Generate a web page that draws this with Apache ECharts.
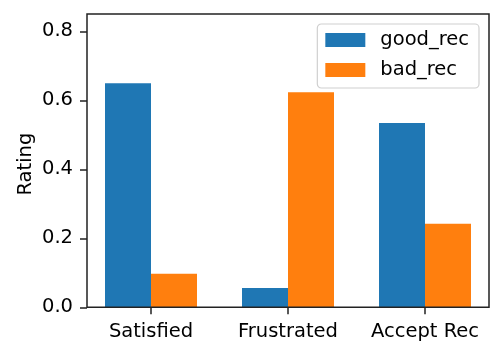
<!DOCTYPE html>
<html>
<head>
<meta charset="utf-8">
<script src="https://cdn.jsdelivr.net/npm/echarts@6/dist/echarts.min.js"></script>
<style>html,body{margin:0;padding:0;background:#fff;}#c{width:503px;height:355px;}</style>
</head>
<body>
<div id="c"></div>
<script>
const categories = ['Satisfied', 'Frustrated', 'Accept Rec'];
const goodRec = [0.649, 0.056, 0.534];
const badRec = [0.097, 0.623, 0.242];
const yTicks = [0, 0.2, 0.4, 0.6, 0.8];
const yMax = 0.85;

const FONT = 'DejaVu Sans';
const FS = 19.5;
const chart = echarts.init(document.getElementById('c'), null, {renderer: 'canvas'});
chart.setOption({
  animation: false,
  backgroundColor: '#fff',
  textStyle: {fontFamily: FONT},
  grid: [
    {left: 87, right: 14, top: 14, bottom: 47.7, show: true, borderColor: '#222', borderWidth: 1.5, backgroundColor: 'transparent', z: 5},
    {left: 82.5, right: 9.5, top: 14, bottom: 47.7}
  ],
  xAxis: [
    {type: 'category', gridIndex: 0, data: categories, show: false},
    {type: 'category', gridIndex: 1, data: categories,
     axisLine: {show: false},
     axisTick: {show: true, alignWithLabel: true, length: 7, lineStyle: {color: '#222', width: 1.5}},
     axisLabel: {color: '#000', fontSize: FS, fontFamily: FONT, margin: 15, interval: 0, hideOverlap: false}}
  ],
  yAxis: [
    {type: 'value', gridIndex: 0, min: 0, max: yMax,
     name: 'Rating', nameLocation: 'middle', nameGap: 51, nameMoveOverlap: false,
     nameTextStyle: {color: '#000', fontSize: FS, fontFamily: FONT, padding: [0, 7, 0, 0]},
     splitLine: {show: false},
     axisLine: {show: false},
     axisTick: {show: true, length: 7, customValues: yTicks, lineStyle: {color: '#222', width: 1.5}},
     axisLabel: {color: '#000', fontSize: FS, fontFamily: FONT, margin: 14, customValues: yTicks,
                 formatter: v => v.toFixed(1)}},
    {type: 'value', gridIndex: 1, min: 0, max: yMax, show: false, splitLine: {show: false}}
  ],
  legend: {
    orient: 'vertical', right: 24, top: 24,
    data: ['good_rec', 'bad_rec'],
    icon: 'rect',
    itemWidth: 40, itemHeight: 14, itemGap: 10,
    padding: [6, 10, 8, 8],
    backgroundColor: 'rgba(255,255,255,0.8)',
    borderColor: '#d0d0d0', borderWidth: 1.2, borderRadius: 4,
    textStyle: {color: '#000', fontSize: FS, fontFamily: FONT, padding: [0, 0, 0, 10]},
    z: 10
  },
  series: [
    {name: 'good_rec', type: 'bar', xAxisIndex: 1, yAxisIndex: 1, data: goodRec,
     barWidth: 46, barGap: '0%', itemStyle: {color: '#1f77b4'}},
    {name: 'bad_rec', type: 'bar', xAxisIndex: 1, yAxisIndex: 1, data: badRec,
     barWidth: 46, barGap: '0%', itemStyle: {color: '#ff7f0e'}}
  ]
});
</script>
</body>
</html>
